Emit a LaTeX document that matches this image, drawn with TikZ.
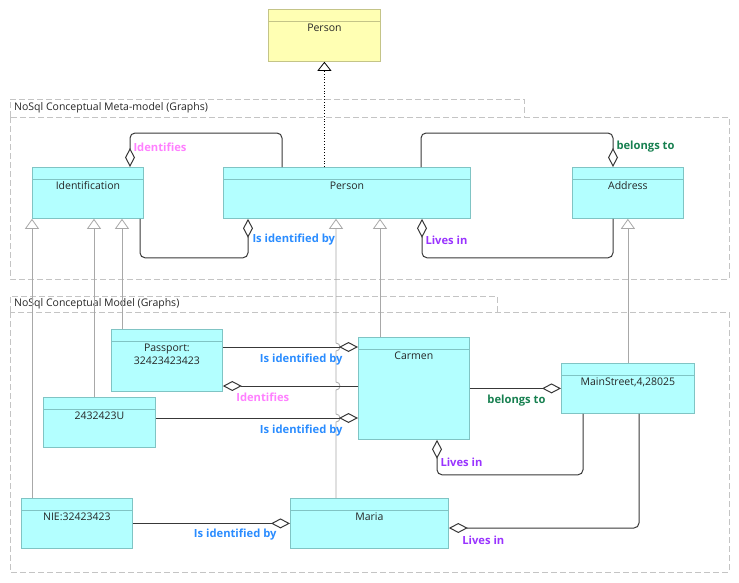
\documentclass[tikz,border=0pt]{standalone}
\usepackage{fontspec}
\setmainfont{Open Sans}
\usetikzlibrary{arrows.meta}
\definecolor{cyanfill}{HTML}{B3FFFF}
\definecolor{cyanline}{HTML}{80C4C4}
\definecolor{yellowfill}{HTML}{FFFFB3}
\definecolor{yellowline}{HTML}{C4C488}
\definecolor{pkgline}{HTML}{C4C4C4}
\definecolor{inhline}{HTML}{A8A8A8}
\definecolor{aggline}{HTML}{383838}
\definecolor{idpink}{HTML}{FF80FF}
\definecolor{isidblue}{HTML}{2A8CFF}
\definecolor{belgreen}{HTML}{178050}
\definecolor{livpurple}{HTML}{9933FF}
\begin{document}
\begin{tikzpicture}[x=1pt, y=-1pt,
    every node/.style={font=\fontsize{10.5}{13}\selectfont, text=black!85},
    classbox/.style={draw=#1line, fill=#1fill, line width=0.8pt, anchor=north west, inner sep=0pt,
      path picture={\draw[#1line, line width=0.8pt] ([yshift=-11.5pt]path picture bounding box.north west) -- ([yshift=-11.5pt]path picture bounding box.north east);}},
    classbox/.default=cyan,
    classname/.style={anchor=north, yshift=-14.5pt, inner sep=0pt, align=center},
    pkg/.style={draw=pkgline, line width=0.8pt, dash pattern=on 6pt off 3pt},
    pkgtitle/.style={anchor=west, inner sep=0pt},
    inherit/.style={draw=inhline, line width=0.8pt, -{Triangle[open, fill=white, length=10pt, width=14pt]}},
    aggr/.style={draw=aggline, line width=1pt, rounded corners=5pt, -{Diamond[open, fill=white, length=19pt, width=10pt]}},
    lbl/.style={font=\fontsize{11.2}{12}\selectfont\bfseries, inner sep=0pt},
    idlbl/.style={lbl, text=idpink},
    isidlbl/.style={lbl, text=isidblue},
    bellbl/.style={lbl, text=belgreen},
    livlbl/.style={lbl, text=livpurple}]
  \useasboundingbox (0,0) rectangle (739,582);

  \draw[pkg] (10,117) -- (10,99) -- (524,99) -- (524,117);
  \draw[pkg] (10,117) rectangle (729,279);
  \node[pkgtitle] (metapkg) at (14,108) {NoSql Conceptual Meta-model (Graphs)};
  \draw[pkg] (10,312) -- (10,296) -- (497,296) -- (497,312);
  \draw[pkg] (10,312) rectangle (729,572);
  \node[pkgtitle] (modelpkg) at (14,304) {NoSql Conceptual Model (Graphs)};

  \node[classbox=yellow, minimum width=112, minimum height=52, label={[classname]north:Person}] (topperson) at (268,9) {};
  \node[classbox, minimum width=111, minimum height=51, label={[classname]north:Identification}] (identification) at (32,167) {};
  \node[classbox, minimum width=247, minimum height=51, label={[classname]north:Person}] (metaperson) at (223,167) {};
  \node[classbox, minimum width=111, minimum height=51, label={[classname]north:Address}] (address) at (572,167) {};
  \node[classbox, minimum width=111, minimum height=62, label={[classname]north:Passport:\\32423423423}] (passport) at (111,329) {};
  \node[classbox, minimum width=112, minimum height=50, label={[classname]north:2432423U}] (idnum) at (43,397) {};
  \node[classbox, minimum width=111, minimum height=102, label={[classname]north:Carmen}] (carmen) at (358,337) {};
  \node[classbox, minimum width=133, minimum height=50, label={[classname]north:{MainStreet,4,28025}}] (mainstreet) at (561,363) {};
  \node[classbox, minimum width=111, minimum height=50, label={[classname]north:NIE:32423423}] (nie) at (21,498) {};
  \node[classbox, minimum width=158, minimum height=50, label={[classname]north:Maria}] (maria) at (290,498) {};

  \draw[dotted, line width=0.8pt, -{Triangle[open, fill=white, length=9pt, width=14pt]}] (topperson.south |- metaperson.north) -- (topperson.south);

  \draw[inherit] (identification.south west |- nie.north) -- (identification.south west);
  \draw[inherit] ([xshift=62pt]identification.south west |- idnum.north) -- ([xshift=62pt]identification.south west);
  \draw[inherit] ([xshift=90pt]identification.south west |- passport.north) -- ([xshift=90pt]identification.south west);
  \draw[inherit] ([xshift=22pt]carmen.north west) -- ([xshift=22pt]carmen.north west |- metaperson.south);
  \draw[inherit] (mainstreet.north) -- (address.south);
  \draw[inherit] ([xshift=46pt]maria.north west) -- ++(0,-76) arc[start angle=-90, end angle=90, radius=4pt]
    -- ++(0,-24) arc[start angle=-90, end angle=90, radius=4pt]
    -- ++(0,-31) arc[start angle=-90, end angle=90, radius=4pt] -- ([xshift=113pt]metaperson.south west);

  \draw[aggr] ([xshift=59pt]metaperson.north west) -- ++(0,-34) -| ([xshift=98pt]identification.north west)
    node[at end, idlbl, anchor=west, xshift=3pt, yshift=20pt] {Identifies};
  \draw[aggr] ([xshift=108pt]identification.south west) -- ++(0,39) -| ([xshift=25pt]metaperson.south west)
    node[at end, isidlbl, anchor=west, xshift=4pt, yshift=-21pt] {Is identified by};
  \draw[aggr] ([xshift=198pt]metaperson.north west) -- ++(0,-34) -| ([xshift=41pt]address.north west)
    node[at end, bellbl, anchor=west, xshift=3pt, yshift=20pt] {belongs to};
  \draw[aggr] ([xshift=41pt]address.south west) -- ++(0,39) -| ([xshift=199pt]metaperson.south west)
    node[at end, livlbl, anchor=west, xshift=3pt, yshift=-21pt] {Lives in};

  \draw[aggr] ([yshift=-18pt]passport.north east) -- ([yshift=-18pt]passport.north east -| carmen.west)
    node[at end, isidlbl, anchor=north east, xshift=-15pt, yshift=-6pt] {Is identified by};
  \draw[aggr] ([yshift=-49pt]carmen.north west) -- ([yshift=-49pt]carmen.north west -| passport.east)
    node[at end, idlbl, anchor=north west, xshift=13pt, yshift=-6pt] {Identifies};
  \draw[aggr] ([yshift=-21pt]idnum.north east) -- ([yshift=-21pt]idnum.north east -| carmen.west)
    node[at end, isidlbl, anchor=north east, xshift=-15pt, yshift=-6pt] {Is identified by};
  \draw[aggr] (carmen.east |- mainstreet.west) -- (mainstreet.west)
    node[at end, bellbl, anchor=north east, xshift=-15pt, yshift=-6pt] {belongs to};
  \draw[aggr] ([xshift=22pt]mainstreet.south west) -- ++(0,61) -| ([xshift=79pt]carmen.south west)
    node[at end, livlbl, anchor=west, xshift=3pt, yshift=-22pt] {Lives in};
  \draw[aggr] ([xshift=78pt]mainstreet.south west) |- ([yshift=-30pt]maria.north east)
    node[at end, livlbl, anchor=north west, xshift=13pt, yshift=-7pt] {Lives in};
  \draw[aggr] (nie.east) -- (nie.east -| maria.west)
    node[at end, isidlbl, anchor=north east, xshift=-13pt, yshift=-5pt] {Is identified by};
\end{tikzpicture}
\end{document}
